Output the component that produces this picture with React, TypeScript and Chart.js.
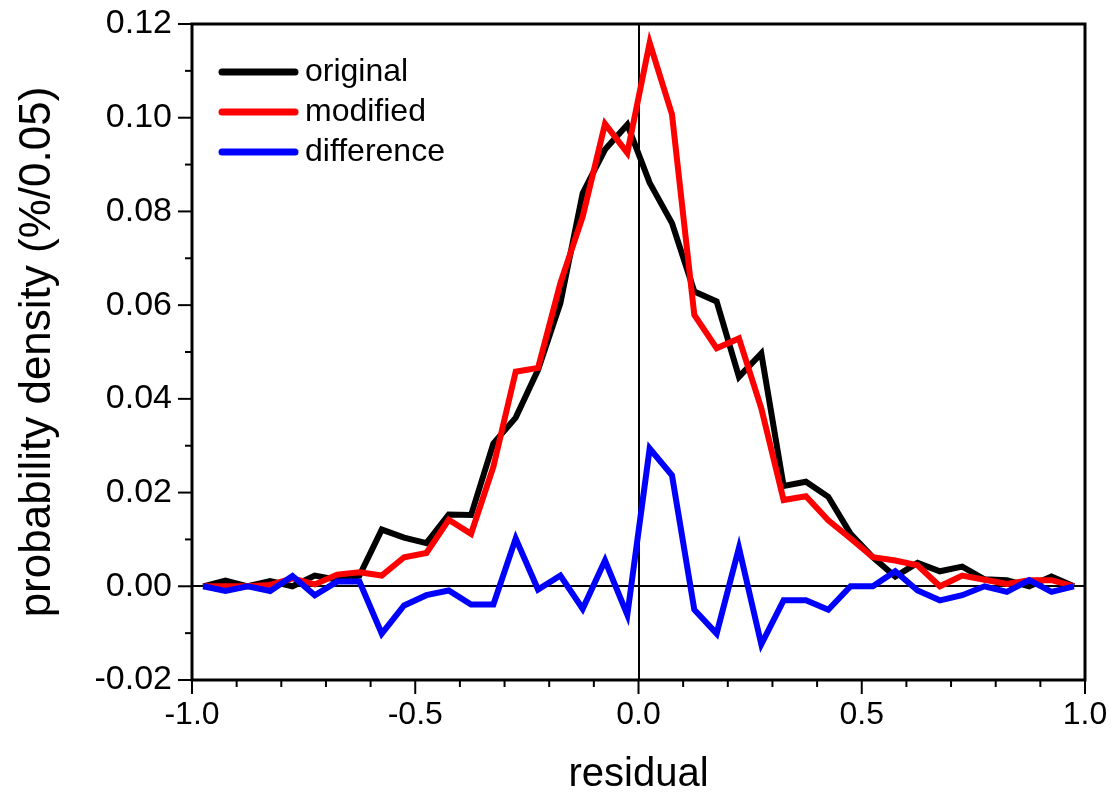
import React, { useEffect, useRef } from "react";
import { Chart, registerables } from "chart.js";

Chart.register(...registerables);

const residual = [
  -0.975, -0.925, -0.875, -0.825, -0.775, -0.725, -0.675, -0.625, -0.575, -0.525,
  -0.475, -0.425, -0.375, -0.325, -0.275, -0.225, -0.175, -0.125, -0.075, -0.025,
  0.025, 0.075, 0.125, 0.175, 0.225, 0.275, 0.325, 0.375, 0.425, 0.475,
  0.525, 0.575, 0.625, 0.675, 0.725, 0.775, 0.825, 0.875, 0.925, 0.975,
];

const original = [
  0, 0.0012, 0, 0.0011, 0, 0.0023, 0.0014, 0.0023, 0.0121, 0.0104,
  0.0092, 0.0153, 0.0152, 0.0305, 0.036, 0.0462, 0.0604, 0.0839, 0.0932, 0.0985,
  0.0861, 0.0775, 0.0629, 0.0608, 0.0447, 0.0497, 0.0214, 0.0223, 0.0191, 0.0112,
  0.0062, 0.0021, 0.005, 0.0032, 0.0042, 0.0015, 0.0013, 0, 0.0021, 0,
];

const modified = [
  0, 0, 0, 0.0003, 0.0017, 0.0004, 0.0025, 0.003, 0.0023, 0.0062,
  0.0071, 0.0142, 0.0112, 0.0255, 0.0458, 0.0466, 0.0647, 0.0789, 0.0987, 0.0925,
  0.116, 0.1007, 0.0579, 0.0508, 0.0529, 0.038, 0.0184, 0.0192, 0.0141, 0.0102,
  0.0062, 0.0055, 0.0045, 0, 0.0023, 0.0014, 0.0005, 0.0013, 0.0013, 0,
];

const difference = [
  0, -0.001, 0, -0.001, 0.0022, -0.0019, 0.001, 0.001, -0.0101, -0.0041,
  -0.0019, -0.0009, -0.0039, -0.0039, 0.0102, -0.0007, 0.0023, -0.0048, 0.0055, -0.0061,
  0.0294, 0.0237, -0.005, -0.0101, 0.0082, -0.0124, -0.003, -0.003, -0.005, 0,
  0, 0.0032, -0.0009, -0.003, -0.0019, 0, -0.0012, 0.0013, -0.0012, 0,
];

const seriesNames = ["original", "modified", "difference"];
const seriesColors = ["#000000", "#ff0000", "#0000ff"];

const FONT = "'Liberation Sans', Arial, sans-serif";

const fmt = (v: number, d: number) => (Math.abs(v) < 1e-9 ? 0 : v).toFixed(d);

const zeroPad = (s: any) => {
  s.paddingTop = 0;
  s.paddingBottom = 0;
  s.paddingLeft = 0;
  s.paddingRight = 0;
};

const framePlugin = {
  id: "frameAndTicks",
  afterDraw(chart: any) {
    const { ctx, chartArea } = chart;
    const xs = chart.scales.x;
    const ys = chart.scales.y;
    ctx.save();
    ctx.strokeStyle = "#000";
    ctx.lineWidth = 2;
    const yt = ys.ticks.map((t: any) => t.value);
    for (let i = 0; i < yt.length; i++) {
      const py = ys.getPixelForValue(yt[i]);
      ctx.beginPath();
      ctx.moveTo(chartArea.left - 14, py);
      ctx.lineTo(chartArea.left, py);
      ctx.stroke();
      if (i < yt.length - 1) {
        const pm = ys.getPixelForValue((yt[i] + yt[i + 1]) / 2);
        ctx.beginPath();
        ctx.moveTo(chartArea.left - 7, pm);
        ctx.lineTo(chartArea.left, pm);
        ctx.stroke();
      }
    }
    const xt = xs.ticks.map((t: any) => t.value);
    for (let i = 0; i < xt.length; i++) {
      const px = xs.getPixelForValue(xt[i]);
      ctx.beginPath();
      ctx.moveTo(px, chartArea.bottom);
      ctx.lineTo(px, chartArea.bottom + 14);
      ctx.stroke();
      if (i < xt.length - 1) {
        for (let j = 1; j < 5; j++) {
          const pm = xs.getPixelForValue(xt[i] + ((xt[i + 1] - xt[i]) * j) / 5);
          ctx.beginPath();
          ctx.moveTo(pm, chartArea.bottom);
          ctx.lineTo(pm, chartArea.bottom + 7);
          ctx.stroke();
        }
      }
    }
    ctx.lineWidth = 3;
    ctx.strokeRect(chartArea.left, chartArea.top, chartArea.right - chartArea.left, chartArea.bottom - chartArea.top);

    const lx = chartArea.left + 30;
    const ly = chartArea.top + 48;
    ctx.font = `32px ${FONT}`;
    ctx.textBaseline = "middle";
    ctx.textAlign = "left";
    chart.data.datasets.forEach((ds: any, i: number) => {
      const y = ly + i * 40;
      ctx.strokeStyle = ds.borderColor;
      ctx.lineWidth = 7;
      ctx.lineCap = "round";
      ctx.beginPath();
      ctx.moveTo(lx, y);
      ctx.lineTo(lx + 73, y);
      ctx.stroke();
      ctx.fillStyle = "#000";
      ctx.fillText(ds.label, lx + 83, y);
    });
    ctx.restore();
  },
};

export default function App() {
  const ref = useRef<HTMLCanvasElement | null>(null);

  useEffect(() => {
    if (!ref.current) return;
    const series = [original, modified, difference];
    const chart = new Chart(ref.current, {
      type: "line",
      data: {
        datasets: series.map((vals, i) => ({
          label: seriesNames[i],
          data: residual.map((x, k) => ({ x, y: vals[k] })),
          borderColor: seriesColors[i],
          backgroundColor: seriesColors[i],
          borderWidth: 6,
          pointRadius: 0,
          tension: 0,
          fill: false,
          order: 3 - i,
          borderJoinStyle: "miter" as const,
        })),
      },
      options: {
        responsive: false,
        animation: false,
        layout: { autoPadding: false, padding: { left: 0, top: 24, right: 26, bottom: 0 } },
        plugins: { legend: { display: false }, tooltip: { enabled: false } },
        scales: {
          x: {
            type: "linear",
            min: -1,
            max: 1,
            afterFit: (s: any) => { s.height = 112; zeroPad(s); },
            border: { display: false },
            grid: {
              drawTicks: false,
              lineWidth: 2,
              color: (c: any) => (c.tick && Math.abs(c.tick.value) < 1e-9 ? "#000" : "rgba(0,0,0,0)"),
            },
            ticks: {
              stepSize: 0.5,
              padding: 16,
              color: "#000",
              font: { family: FONT, size: 32 },
              callback: (v: any) => fmt(Number(v), 1),
              maxRotation: 0,
            },
            title: {
              display: true,
              text: "residual",
              color: "#000",
              font: { family: FONT, size: 40, lineHeight: 1 },
              padding: { top: 0, bottom: -3 },
            },
          },
          y: {
            type: "linear",
            min: -0.02,
            max: 0.12,
            afterFit: (s: any) => { s.width = 192; zeroPad(s); },
            border: { display: false },
            grid: {
              drawTicks: false,
              lineWidth: 2,
              color: (c: any) => (c.tick && Math.abs(c.tick.value) < 1e-9 ? "#000" : "rgba(0,0,0,0)"),
            },
            ticks: {
              stepSize: 0.02,
              padding: 20,
              color: "#000",
              font: { family: FONT, size: 34 },
              callback: (v: any) => fmt(Number(v), 2),
            },
            title: {
              display: true,
              text: "probability density (%/0.05)",
              color: "#000",
              font: { family: FONT, size: 44, lineHeight: 1 },
              padding: { top: 16, bottom: 0 },
            },
          },
        },
      },
      plugins: [framePlugin],
    });
    return () => chart.destroy();
  }, []);

  return (
    <div style={{ position: "absolute", left: 0, top: 0, width: 1111, height: 792, background: "#fff" }}>
      <canvas ref={ref} width={1111} height={792} style={{ display: "block" }} />
    </div>
  );
}
